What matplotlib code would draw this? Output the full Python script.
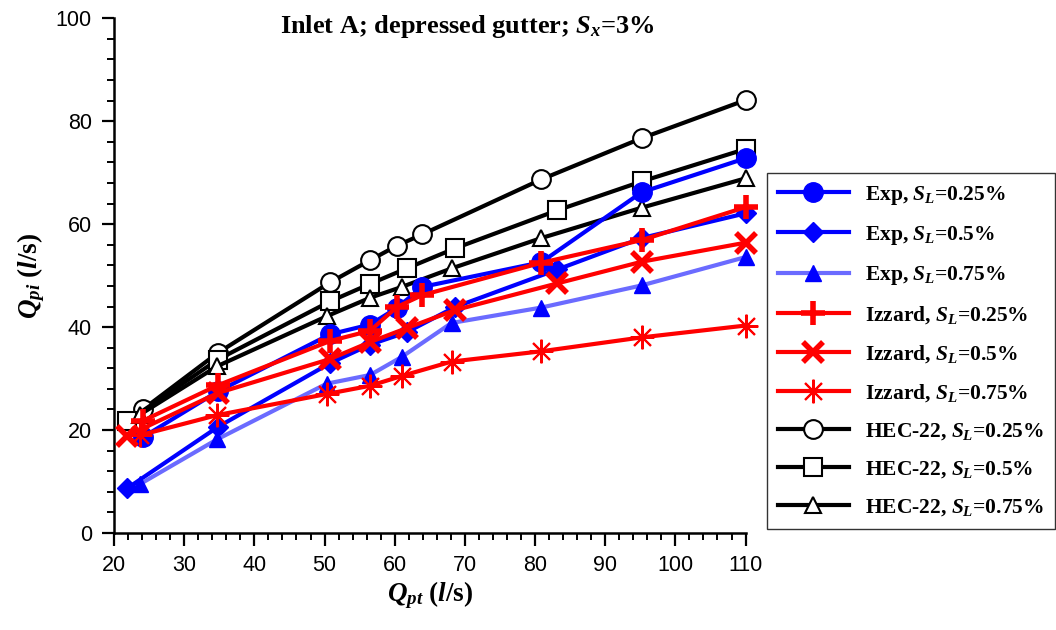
import matplotlib
matplotlib.use('Agg')
import matplotlib.pyplot as plt
from matplotlib.ticker import MultipleLocator

# x positions (Q_pt, l/s) for each slope
x_025 = [24.1, 34.8, 50.8, 56.5, 60.3, 63.9, 80.9, 95.2, 110]
x_05 = [21.9, 34.8, 50.8, 56.5, 61.7, 68.6, 83.2, 95.2, 110]
x_075 = [23.7, 34.7, 50.3, 56.5, 61.0, 68.1, 80.9, 95.2, 110]

# experimental Q_pi
exp_025 = [18.6, 27.5, 38.6, 40.5, 43.7, 47.8, 52.6, 66.2, 72.8]
exp_05 = [8.7, 20.6, 33.0, 36.6, 39.0, 43.9, 51.2, 57.3, 62.1]
exp_075 = [9.5, 18.2, 29.0, 30.7, 34.2, 40.8, 43.8, 48.1, 53.6]

# Izzard
izz_025 = [21.8, 28.7, 37.3, 39.3, 43.9, 46.2, 52.5, 56.9, 63.3]
izz_05 = [18.9, 27.2, 33.8, 37.1, 39.8, 43.3, 48.5, 52.7, 56.4]
izz_075 = [19.0, 22.9, 27.0, 28.6, 30.5, 33.3, 35.3, 38.0, 40.3]

# HEC-22
hec_025 = [24.0, 35.0, 48.7, 53.0, 55.8, 58.0, 68.7, 76.7, 84.1]
hec_05 = [21.7, 33.7, 45.0, 48.4, 51.4, 55.3, 62.7, 68.3, 74.6]
hec_075 = [23.0, 32.4, 42.1, 45.7, 47.8, 51.4, 57.3, 63.2, 68.9]

plt.rcParams['mathtext.fontset'] = 'custom'
plt.rcParams['mathtext.rm'] = 'Liberation Serif:bold'
plt.rcParams['mathtext.it'] = 'Liberation Serif:italic:bold'
plt.rcParams['mathtext.bf'] = 'Liberation Serif:bold'

fig = plt.figure(figsize=(10.56, 6.3), dpi=100)
ax = fig.add_axes([0.108, 0.154, 0.598, 0.817])

lw = 3
blue = '#0000ff'
lblue = '#6b6bff'
red = '#ff0000'

ax.plot(x_025, exp_025, color=blue, lw=lw, marker='o', ms=14, label=r'Exp, $S_L$=0.25%', clip_on=False, zorder=5)
ax.plot(x_05, exp_05, color=blue, lw=lw, marker='D', ms=10.5, label=r'Exp, $S_L$=0.5%', clip_on=False, zorder=5)
ax.plot(x_075, exp_075, color=lblue, lw=lw, marker='^', ms=12, mfc=blue, mec=blue, label=r'Exp, $S_L$=0.75%', clip_on=False, zorder=5)
ax.plot(x_025, izz_025, color=red, lw=lw, marker='+', ms=17, mew=4, label=r'Izzard, $S_L$=0.25%', clip_on=False, zorder=6)
ax.plot(x_05, izz_05, color=red, lw=lw, marker='x', ms=14, mew=4, label=r'Izzard, $S_L$=0.5%', clip_on=False, zorder=6)
ax.plot(x_075, izz_075, color=red, lw=lw, marker=(8, 2, 0), ms=17, mew=1.5, label=r'Izzard, $S_L$=0.75%', clip_on=False, zorder=6)
ax.plot(x_025, hec_025, color='black', lw=lw, marker='o', ms=13.5, mfc='white', mew=1.5, label=r'HEC-22, $S_L$=0.25%', clip_on=False, zorder=4)
ax.plot(x_05, hec_05, color='black', lw=lw, marker='s', ms=12.5, mfc='white', mew=1.5, label=r'HEC-22, $S_L$=0.5%', clip_on=False, zorder=4)
ax.plot(x_075, hec_075, color='black', lw=lw, marker='^', ms=12, mfc='white', mew=1.5, label=r'HEC-22, $S_L$=0.75%', clip_on=False, zorder=4)

ax.set_xlim(20, 110)
ax.set_ylim(0, 100)
ax.xaxis.set_major_locator(MultipleLocator(10))
ax.xaxis.set_minor_locator(MultipleLocator(2))
ax.yaxis.set_major_locator(MultipleLocator(20))
ax.yaxis.set_minor_locator(MultipleLocator(4))
ax.spines['top'].set_visible(False)
ax.spines['right'].set_visible(False)
ax.spines['left'].set_linewidth(1.8)
ax.spines['bottom'].set_linewidth(1.8)
ax.tick_params(which='major', direction='out', length=9, width=1.6, labelsize=15.5, pad=7)
ax.tick_params(which='minor', direction='out', length=5, width=1.4)
for lab in ax.get_xticklabels() + ax.get_yticklabels():
    lab.set_family('Liberation Sans')

ax.set_xlabel(r'$Q_{pt}$ ($l$/s)', family='Liberation Serif', fontweight='bold', fontsize=19.5, labelpad=2)
ax.set_ylabel(r'$Q_{pi}$ ($l$/s)', family='Liberation Serif', fontweight='bold', fontsize=19.5, labelpad=6)
ax.text(0.56, 0.972, r'Inlet A; depressed gutter; $S_x$=3%', transform=ax.transAxes,
        ha='center', va='baseline', family='Liberation Serif', fontweight='bold', fontsize=19)

leg = fig.legend(loc='upper left', bbox_to_anchor=(0.7263, 0.7254), bbox_transform=fig.transFigure,
                 prop={'family': 'Liberation Serif', 'weight': 'bold', 'size': 15.5},
                 frameon=True, fancybox=False, edgecolor='black', handlelength=3.3,
                 labelspacing=0.8, borderpad=0.5, handletextpad=0.75, borderaxespad=0)
leg.get_frame().set_linewidth(1.0)

fig.savefig('out.png', dpi=100)
